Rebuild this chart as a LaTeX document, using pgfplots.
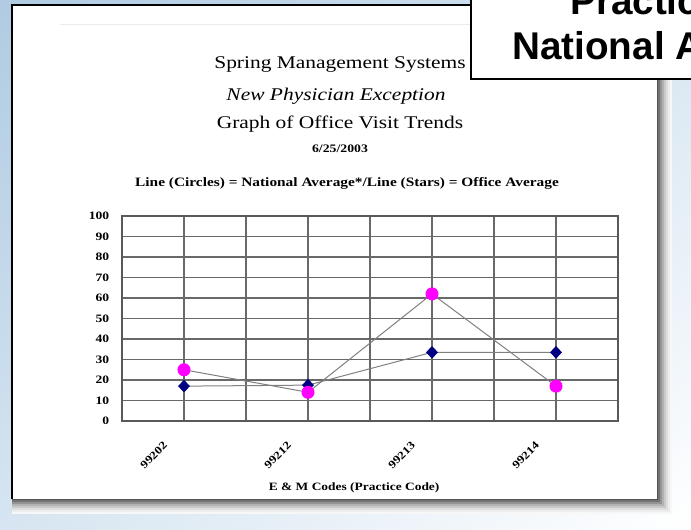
\documentclass[border=0pt]{standalone}
\usepackage{pgfplots}
\pgfplotsset{compat=1.18}
\usetikzlibrary{shadings}
\usepackage{fontspec}
\setmainfont{Liberation Serif}[FakeStretch=1.2]
\newfontfamily\arial{Liberation Sans}
\definecolor{navyc}{RGB}{0,0,128}
\definecolor{magc}{RGB}{255,0,255}
\definecolor{bgA}{RGB}{176,203,226}
\definecolor{bgB}{RGB}{214,229,241}
\definecolor{gridc}{RGB}{105,105,105}
\begin{document}
\begin{tikzpicture}
\clip (0,0) rectangle (518.25pt,396.75pt);
\shade[upper left=bgA, upper right=bgB, lower left=bgB, lower right=white] (0,0) rectangle (518.25pt,396.75pt);
\begin{scope}[x=0.75pt,y=-0.75pt,shift={(0,396.75pt)}]
  % shadow
  \foreach \k/\g in {15/97,13/93,11/87,9/79,7/70,5/58,3/45,1/32}{
    \fill[white!\g!black] (12,5) rectangle ({657+\k},{499+\k});
  }
  \fill[white] (12,5) rectangle (657,499);
  \draw[black, line width=1.5pt] (12,499) -- (12,5) -- (657,5);
  \draw[black!8, line width=0.75pt] (60,25) -- (470,25);
  % titles
  \node[font=\fontsize{13.4}{15}\selectfont] at (340,65) {Spring Management Systems};
  \node[font=\itshape\fontsize{13.4}{15}\selectfont] at (336,96) {New Physician Exception};
  \node[font=\fontsize{13.4}{15}\selectfont] at (340,124) {Graph of Office Visit Trends};
  \node[font=\bfseries\fontsize{8.6}{10}\selectfont] at (340,149) {6/25/2003};
  \node[font=\bfseries\fontsize{9.6}{11}\selectfont] at (347,183) {Line (Circles) = National Average*/Line (Stars) = Office Average};
  % overlay box
  \filldraw[fill=white, draw=black, line width=1.5pt] (471,-5) rectangle (705,79);
  \node[anchor=base west, inner sep=0pt, font=\arial\bfseries\fontsize{29}{34}\selectfont] at (570,15) {Practice};
  \node[anchor=base west, inner sep=0pt, font=\arial\bfseries\fontsize{29}{34}\selectfont] at (512,60) {National Averages};
\end{scope}
\begin{axis}[
  at={(91.5pt,81pt)}, anchor=south west,
  scale only axis, width=372pt, height=153.75pt,
  xmin=0, xmax=8, ymin=0, ymax=100,
  xtick={1,3,5,7}, xticklabels={99202,99212,99213,99214},
  minor x tick num=1,
  ytick={0,10,...,100},
  grid=both,
  major grid style={draw=gridc, line width=0.85pt},
  minor grid style={draw=gridc, line width=0.85pt},
  tick style={draw=none},
  axis line style={draw=black!65, line width=1.2pt},
  /pgf/number format/assume math mode=true,
  yticklabel style={font=\bfseries\fontsize{8.5}{10}\selectfont, xshift=-6pt},
  xticklabel style={font=\bfseries\fontsize{8.2}{9}\selectfont, xshift=-16pt, yshift=-10pt, rotate=45, anchor=north east},
  xlabel={E \& M Codes (Practice Code)},
  xlabel style={font=\bfseries\fontsize{8.4}{10}\selectfont, at={(axis description cs:0.468,-0.327)}, anchor=center},
]
\addplot[draw=gray, line width=0.75pt, mark=diamond*, mark size=4.2pt, mark options={fill=navyc, draw=navyc, solid, xscale=1.25}]
  coordinates {(1,17) (3,17.5) (5,33.5) (7,33.5)};
\addplot[draw=gray, line width=0.75pt, mark=*, mark size=4.5pt, mark options={fill=magc, draw=magc, solid}]
  coordinates {(1,25) (3,14) (5,62) (7,17)};
\end{axis}
\end{tikzpicture}
\end{document}
